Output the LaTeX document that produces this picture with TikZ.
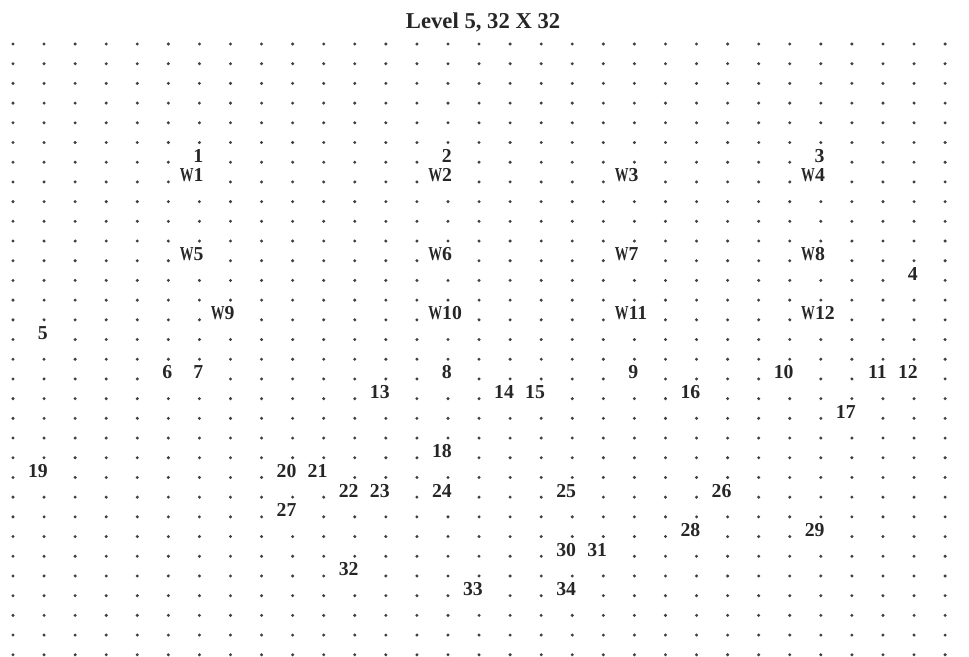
\documentclass[tikz,border=0pt]{standalone}
\usepackage{fontspec}
\setmainfont{Liberation Serif}
\usepackage{graphicx}

\newcommand{\narrowW}{\scalebox{0.7}[1]{W}}

\begin{document}
\begin{tikzpicture}[x=23.3pt, y=-14.775pt,
  griddot/.style={fill=black!75},
  numlabel/.style={anchor=base east, inner sep=0pt, text=black!85, font=\fontsize{14.8}{16}\selectfont\bfseries},
  wlabel/.style={anchor=base west, inner sep=0pt, text=black!85, font=\fontsize{14.8}{16}\selectfont\bfseries},
  title/.style={anchor=base, inner sep=0pt, text=black!85, font=\fontsize{17}{20}\selectfont\bfseries}]
\useasboundingbox (-0.4184,-2.2335) rectangle (30.769,31.066);
\node[title] (title) at (15.13,-0.81) {Level 5, 32 X 32};
% numbered points, right aligned on their grid dot
\foreach \col/\rw/\txt in {6/6/1, 14/6/2, 26/6/3, 29/12/4, 1/15/5, 5/17/6, 6/17/7, 14/17/8, 20/17/9, 25/17/10, 28/17/11, 29/17/12, 12/18/13, 16/18/14, 17/18/15, 22/18/16, 27/19/17, 14/21/18, 1/22/19, 9/22/20, 10/22/21, 11/23/22, 12/23/23, 14/23/24, 18/23/25, 23/23/26, 9/24/27, 22/25/28, 26/25/29, 18/26/30, 19/26/31, 11/27/32, 15/28/33, 18/28/34} {
  \node[numlabel] (p\txt) at (\col+0.13,\rw) {\txt};
  \expandafter\gdef\csname used-\col-\rw\endcsname{}
}
% W points, left aligned
\foreach \col/\rw/\txt in {6/7/1, 14/7/2, 20/7/3, 26/7/4, 6/11/5, 14/11/6, 20/11/7, 26/11/8, 7/14/9, 14/14/10, 20/14/11, 26/14/12} {
  \node[wlabel] (w\txt) at (\col-0.64,\rw) {\narrowW\txt};
  \expandafter\gdef\csname used-\col-\rw\endcsname{}
}
% the dot grid
\foreach \col in {0,...,30} {
  \foreach \rw in {0,...,31} {
    \ifcsname used-\col-\rw\endcsname\else
      \fill[griddot] (\col,\rw) circle (1.25pt);
    \fi
  }
}
\end{tikzpicture}
\end{document}
